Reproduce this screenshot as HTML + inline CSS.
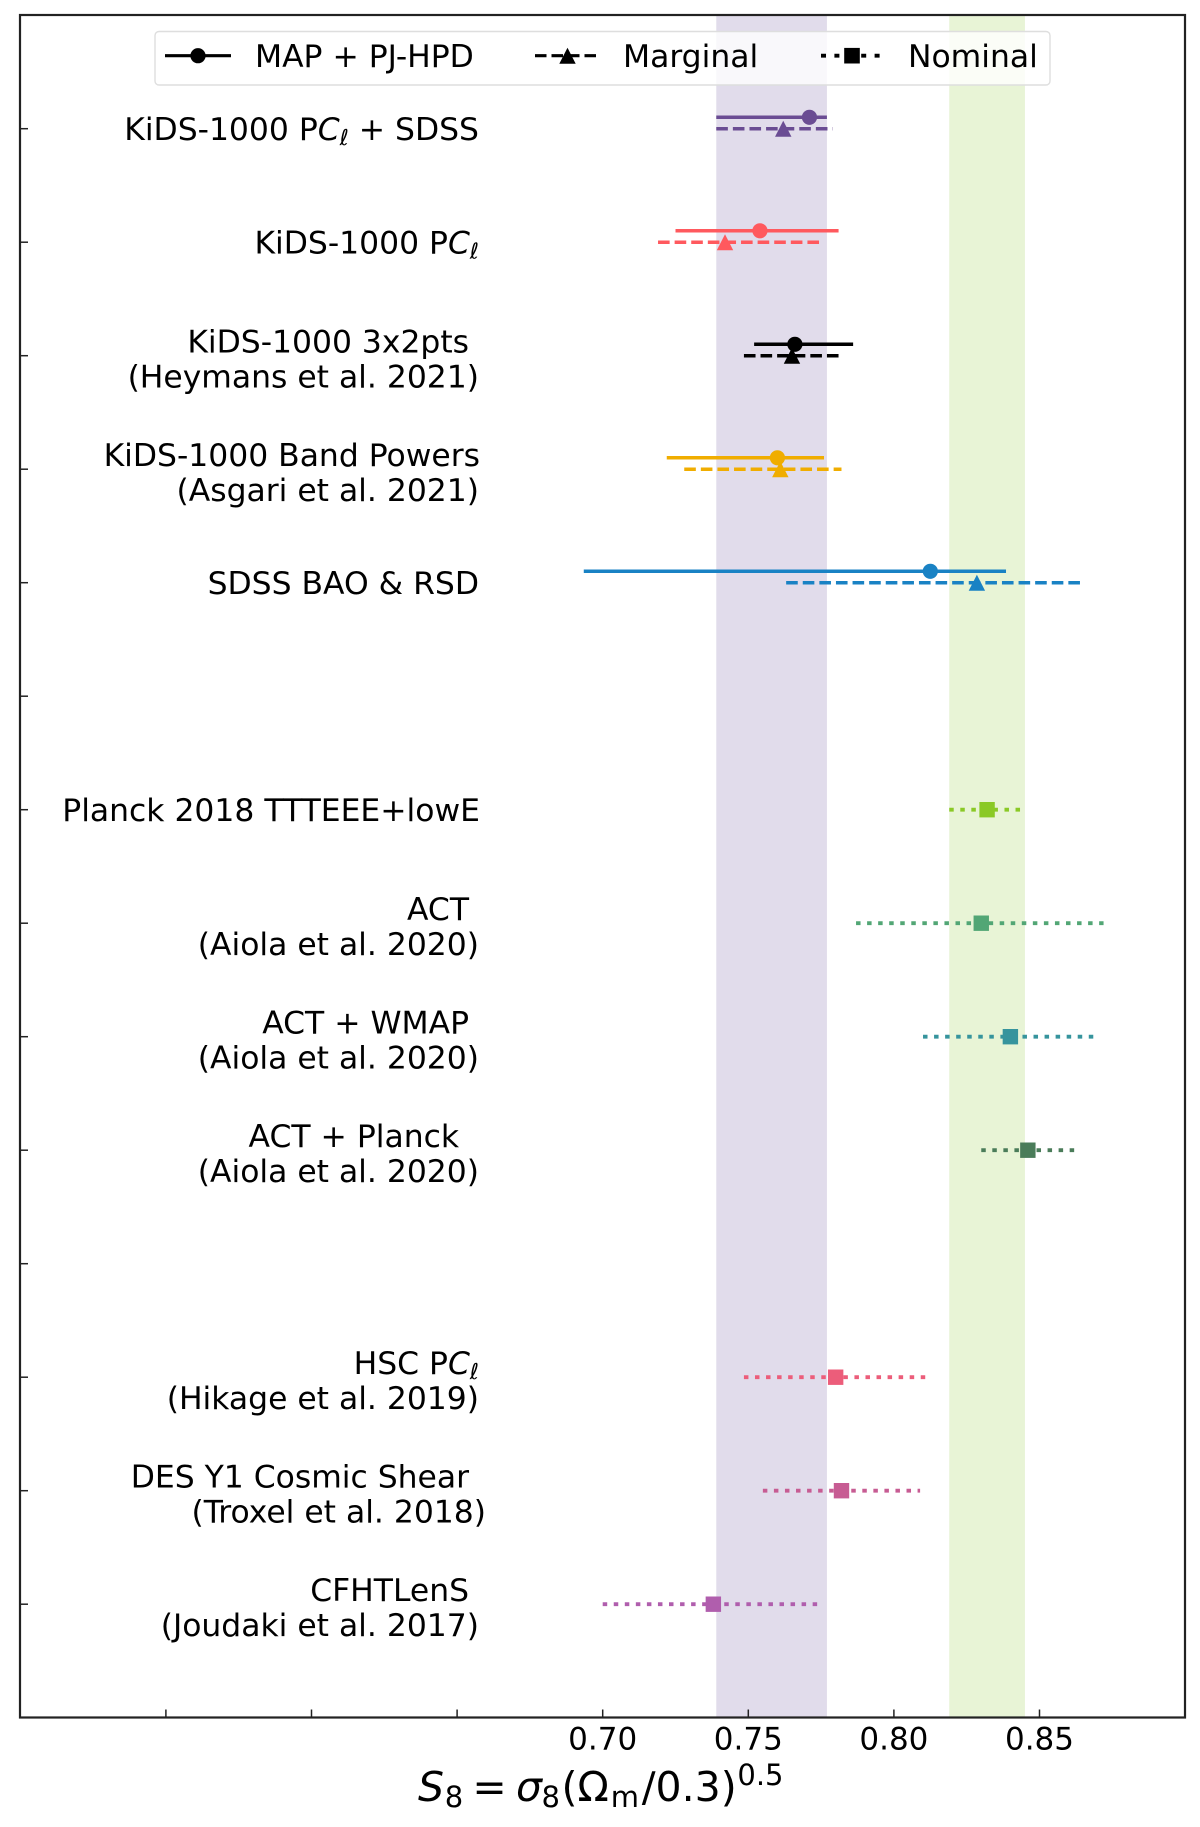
<!DOCTYPE html>
<html lang="en">
<head>
<meta charset="utf-8">
<title>S8 comparison chart</title>
<style>
html,body{margin:0;padding:0;background:#fff;}
svg{display:block;}
text{font-family:"DejaVu Sans","Liberation Sans",sans-serif;fill:#000;white-space:pre;}
</style>
</head>
<body>
<svg id="chart" xmlns="http://www.w3.org/2000/svg" width="1200" height="1827" viewBox="0 0 1200 1827">
  <rect x="0" y="0" width="1200" height="1827" fill="#ffffff"/>
  <g id="bands"></g>
  <g id="ticks"></g>
  <g id="labels"></g>
  <g id="marks"></g>
  <rect x="20" y="15" width="1165" height="1702.5" fill="none" stroke="#222" stroke-width="2.2"/>
  <g>
    <rect x="155" y="31.5" width="895" height="53.5" rx="4" fill="#ffffff" fill-opacity="0.8" stroke="#dedede" stroke-width="1.4"/>
    <g>
      <line x1="165" y1="55.7" x2="231" y2="55.7" stroke="#000" stroke-width="3.2"/>
      <circle cx="198" cy="55.7" r="7.6" fill="#000"/>
      <text x="255" y="67" font-size="31.4">MAP + PJ-HPD</text>
    </g>
    <g>
      <line x1="535" y1="55.7" x2="600" y2="55.7" stroke="#000" stroke-width="3.2" stroke-dasharray="11.5 5"/>
      <polygon points="567.5,47.7 575.7,63.7 559.3,63.7" fill="#000"/>
      <text x="623" y="67" font-size="31.4">Marginal</text>
    </g>
    <g>
      <line x1="821" y1="55.7" x2="881" y2="55.7" stroke="#000" stroke-width="3.8" stroke-dasharray="5 8.4"/>
      <rect x="844.2" y="47.9" width="15.6" height="15.6" fill="#000"/>
      <text x="908" y="67" font-size="31.4">Nominal</text>
    </g>
  </g>
  <text y="1801" font-size="41"><tspan x="418" font-style="italic">S</tspan><tspan x="444.7" font-size="29" dy="6">8</tspan><tspan x="472.4" dy="-6">=</tspan><tspan x="516" font-style="italic">σ</tspan><tspan x="541.5" font-size="29" dy="6">8</tspan><tspan x="561.5" dy="-6">(Ω</tspan><tspan x="610.7" font-size="29" dy="6">m</tspan><tspan x="641.7" dy="-6">/0.3)</tspan><tspan x="737.4" font-size="29" dy="-16">0.5</tspan></text>
</svg>
<script>
// ---- chart data ----
const rowNames = [
  ["KiDS-1000 PCℓ + SDSS"],
  ["KiDS-1000 PCℓ"],
  ["KiDS-1000 3x2pts ", "(Heymans et al. 2021)"],
  ["KiDS-1000 Band Powers", "(Asgari et al. 2021)"],
  ["SDSS BAO & RSD"],
  [],
  ["Planck 2018 TTTEEE+lowE"],
  ["ACT ", "(Aiola et al. 2020)"],
  ["ACT + WMAP ", "(Aiola et al. 2020)"],
  ["ACT + Planck  ", "(Aiola et al. 2020)"],
  [],
  ["HSC PCℓ", "(Hikage et al. 2019)"],
  ["DES Y1 Cosmic Shear ", "(Troxel et al. 2018)"],
  ["CFHTLenS ", "(Joudaki et al. 2017)"]
];
const mapLow  = [0.739, 0.725, 0.752, 0.722, 0.6935, null, null, null, null, null, null, null, null, null];
const mapBest = [0.771, 0.754, 0.766, 0.760, 0.8125, null, null, null, null, null, null, null, null, null];
const mapHigh = [0.777, 0.781, 0.786, 0.776, 0.8385, null, null, null, null, null, null, null, null, null];
const marginalLow  = [0.739, 0.719, 0.7485, 0.728, 0.763, null, null, null, null, null, null, null, null, null];
const marginalBest = [0.762, 0.742, 0.765, 0.761, 0.8285, null, null, null, null, null, null, null, null, null];
const marginalHigh = [0.779, 0.775, 0.7815, 0.782, 0.864, null, null, null, null, null, null, null, null, null];
const nominalLow  = [null, null, null, null, null, null, 0.819, 0.787, 0.810, 0.830, null, 0.7485, 0.755, 0.700];
const nominalBest = [null, null, null, null, null, null, 0.832, 0.830, 0.840, 0.846, null, 0.780, 0.782, 0.738];
const nominalHigh = [null, null, null, null, null, null, 0.8435, 0.872, 0.869, 0.862, null, 0.8115, 0.809, 0.775];
const xTickValues = [0.55, 0.60, 0.65, 0.70, 0.75, 0.80, 0.85];
const xTickLabels = ["", "", "", "0.70", "0.75", "0.80", "0.85"];
const kidsBand = [0.739, 0.777];
const planckBand = [0.819, 0.845];
const rowColors = ["#6a4c93", "#ff595e", "#000000", "#f0ad00", "#1982c4", "", "#8ac926", "#52a675", "#36949d", "#4a7c59", "", "#ec5d7a", "#c75c93", "#b05ead"];

// ---- axis functions ----
function xScale(v) { return 602.7 + (v - 0.70) * 2912; }
function yScale(i) { return 128.7 + 113.5 * i; }

const NS = "http://www.w3.org/2000/svg";
function make(tag, parent, attrs) {
  const el = document.createElementNS(NS, tag);
  for (const k in attrs) el.setAttribute(k, attrs[k]);
  parent.appendChild(el);
  return el;
}
const bandsG = document.getElementById("bands");
const ticksG = document.getElementById("ticks");
const labelsG = document.getElementById("labels");
const marksG = document.getElementById("marks");
const AXIS_TOP = 15, AXIS_BOTTOM = 1717.5, AXIS_LEFT = 20;

// bands
const kidsRect = make("rect", bandsG, {x: xScale(kidsBand[0]), y: AXIS_TOP, width: xScale(kidsBand[1]) - xScale(kidsBand[0]), height: AXIS_BOTTOM - AXIS_TOP, fill: "#e1dceb"});


const planckRect = make("rect", bandsG, {x: xScale(planckBand[0]), y: AXIS_TOP, width: xScale(planckBand[1]) - xScale(planckBand[0]), height: AXIS_BOTTOM - AXIS_TOP, fill: "#e8f4d6"});



// x ticks
xTickValues.forEach(function (v, i) {
  const t = make("line", ticksG, {x1: xScale(v), x2: xScale(v), y1: AXIS_BOTTOM, y2: AXIS_BOTTOM - 8, stroke: "#222", "stroke-width": 1.5});
  
  
  if (xTickLabels[i]) {
    const lab = make("text", ticksG, {x: xScale(v), y: 1749.5, "text-anchor": "middle", "font-size": 31});
    
    
    lab.textContent = xTickLabels[i];
  }
});

// rows: y ticks and labels
function addLabelLine(parent, text, x, y) {
  const t = make("text", parent, {x: x, y: y, "text-anchor": "end", "font-size": 31.4});
  
  
  const idx = text.indexOf("Cℓ");
  if (idx < 0) { t.textContent = text; return; }
  make("tspan", t, {}).textContent = text.slice(0, idx);
  make("tspan", t, {"font-style": "italic"}).textContent = "C";
  make("tspan", t, {"font-style": "italic", "font-size": 22, dy: 5}).textContent = "ℓ";
  const rest = text.slice(idx + 2);
  if (rest) make("tspan", t, {dy: -5}).textContent = rest;
}
const labelRight = 479;
rowNames.forEach(function (lines, i) {
  const y = yScale(i);
  const t = make("line", ticksG, {x1: AXIS_LEFT, x2: AXIS_LEFT + 8, y1: y, y2: y, stroke: "#222", "stroke-width": 1.5});
  
  
  if (lines.length === 1) {
    addLabelLine(labelsG, lines[0], labelRight + (lines[0].startsWith("Planck") ? 1 : 0), y + 11.5);
  } else if (lines.length === 2) {
    const nudge1 = lines[0].indexOf("Band") >= 0 ? 1 : 0;
    const nudge2 = lines[1].indexOf("Troxel") >= 0 ? 7 : 0;
    addLabelLine(labelsG, lines[0], labelRight + nudge1, y - 3);
    addLabelLine(labelsG, lines[1], labelRight + nudge2, y + 32);
  }
});

// series
function drawRange(lo, hi, y, color, dash, name) {
  const attrs = {x1: xScale(lo), x2: xScale(hi), y1: y, y2: y, stroke: color, "stroke-width": dash === "dot" ? 3.8 : 3.5};
  if (dash === "dash") attrs["stroke-dasharray"] = "11.6 5";
  if (dash === "dot") attrs["stroke-dasharray"] = "4.5 6.55";
  const l = make("line", marksG, attrs);
  
  
}
rowColors.forEach(function (color, i) {
  const y = yScale(i);
  if (mapBest[i] !== null) {
    drawRange(mapLow[i], mapHigh[i], y - 11.4, color, "solid", "map-interval");
    const c = make("circle", marksG, {cx: xScale(mapBest[i]), cy: y - 11.4, r: 7.6, fill: color});
    
    
  }
  if (marginalBest[i] !== null) {
    drawRange(marginalLow[i], marginalHigh[i], y, color, "dash", "marginal-interval");
    const cx = xScale(marginalBest[i]);
    const p = make("polygon", marksG, {points: cx + "," + (y - 8) + " " + (cx + 8.2) + "," + (y + 8) + " " + (cx - 8.2) + "," + (y + 8), fill: color});
    
    
  }
  if (nominalBest[i] !== null) {
    drawRange(nominalLow[i], nominalHigh[i], y, color, "dot", "nominal-interval");
    const s = make("rect", marksG, {x: xScale(nominalBest[i]) - 7.7, y: y - 7.7, width: 15.4, height: 15.4, fill: color});
    
    
  }
});
</script>
</body>
</html>
